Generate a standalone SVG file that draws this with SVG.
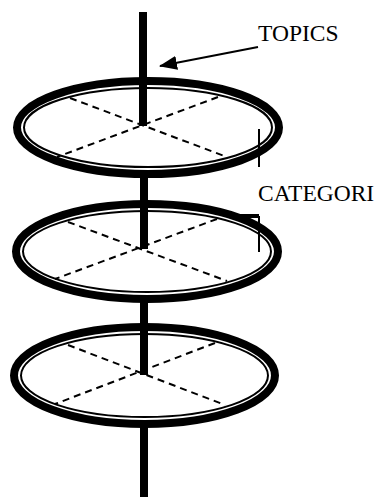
<svg xmlns="http://www.w3.org/2000/svg" width="380" height="497" viewBox="0 0 380 497">
<style>
.thick{fill:#fff;stroke:#000;stroke-width:8}
.thin{fill:none;stroke:#000;stroke-width:2}
.dash{fill:none;stroke:#000;stroke-width:2;stroke-dasharray:7 5}
.pole{stroke:#000;stroke-width:8;fill:none}
.tick{stroke:#000;stroke-width:2;fill:none}
.lbl{font-family:"Liberation Serif","Times New Roman",serif;font-size:23.5px;fill:#000}
</style>
<defs>
<marker id="ah" markerWidth="18" markerHeight="14" refX="17" refY="7" orient="auto" markerUnits="userSpaceOnUse" viewBox="0 0 18 14">
<path d="M0,0 L18,7 L0,14 Z" fill="#000"/>
</marker>
</defs>
<g id="disc1">
<ellipse class="thick" cx="148" cy="127.5" rx="131" ry="46.5"/>
<ellipse class="thin" cx="148" cy="127.5" rx="124" ry="39.5"/>
<line class="dash" x1="70" y1="98" x2="227" y2="157"/>
<line class="dash" x1="218" y1="97" x2="57" y2="157"/>
</g>
<g id="disc2">
<ellipse class="thick" cx="147" cy="251.5" rx="131" ry="47.5"/>
<ellipse class="thin" cx="147" cy="251.5" rx="124" ry="40.5"/>
<line class="dash" x1="68" y1="222" x2="227" y2="281"/>
<line class="dash" x1="217" y1="219" x2="55" y2="279"/>
</g>
<g id="disc3">
<ellipse class="thick" cx="144.5" cy="375.5" rx="130.5" ry="48.5"/>
<ellipse class="thin" cx="144.5" cy="375.5" rx="123.5" ry="41.5"/>
<line class="dash" x1="68" y1="345" x2="225" y2="405"/>
<line class="dash" x1="215" y1="343" x2="55" y2="404"/>
</g>
<g id="connectors">
<line class="pole" x1="143" y1="12" x2="143" y2="126"/>
<line class="pole" x1="144" y1="172" x2="144" y2="249"/>
<line class="pole" x1="144" y1="296" x2="144" y2="375"/>
<line class="pole" x1="144" y1="420" x2="144" y2="497"/>
<line x1="258" y1="47" x2="160" y2="66" stroke="#000" stroke-width="2" marker-end="url(#ah)"/>
<line class="tick" x1="259" y1="129" x2="259" y2="167"/>
<line class="tick" x1="259" y1="216" x2="259" y2="252"/>
<rect x="238" y="214" width="21" height="4" fill="#000"/>
</g>
<g id="topics"><text class="lbl" x="258" y="41">TOPICS</text></g>
<g id="categori"><text class="lbl" x="258" y="201">CATEGORI</text></g>
</svg>
